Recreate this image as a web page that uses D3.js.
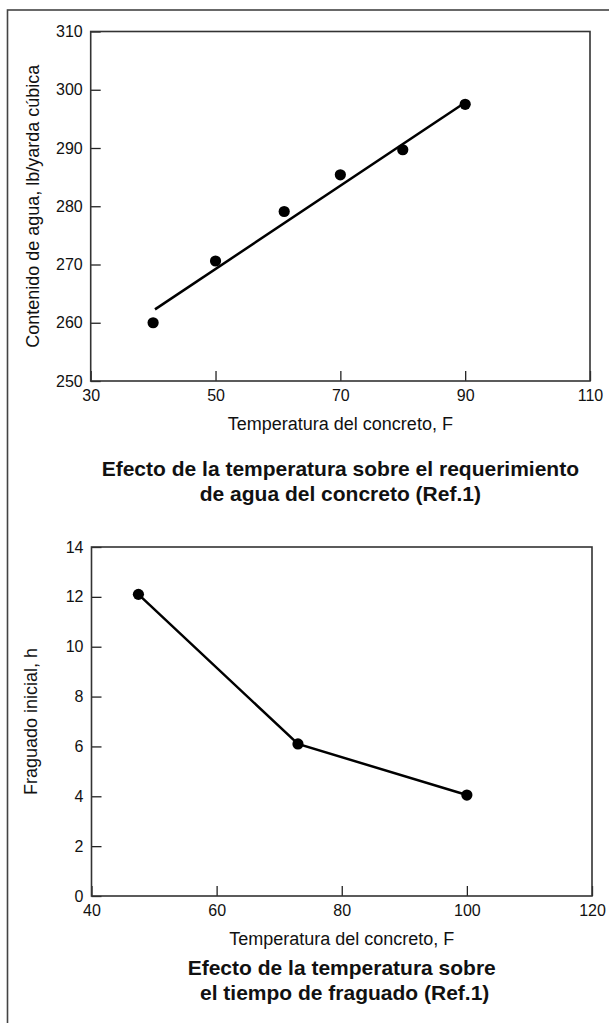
<!DOCTYPE html>
<html>
<head>
<meta charset="utf-8">
<script src="https://cdn.jsdelivr.net/npm/d3@7/dist/d3.min.js"></script>
<style>
  html, body { margin: 0; padding: 0; background: #fff; }
  svg { display: block; }
  text { font-family: "Liberation Sans", Arial, Helvetica, sans-serif; fill: #111; }
</style>
</head>
<body>
<svg id="chart" width="609" height="1023"></svg>
<script>
// ---- Chart 1 data: water requirement vs. concrete temperature ----
const tempWater = [40, 50, 61, 70, 80, 90];
const waterContent = [260, 270.6, 279.1, 285.4, 289.7, 297.5];
const fitTemp = [40.3, 90];
const fitWater = [262.3, 297.8];
const xTicks1 = [30, 50, 70, 90, 110];
const yTicks1 = [250, 260, 270, 280, 290, 300, 310];
const xLabel1 = "Temperatura del concreto, F";
const yLabel1 = "Contenido de agua, lb/yarda cúbica";
const title1 = ["Efecto de la temperatura sobre el requerimiento", "de agua del concreto (Ref.1)"];

// ---- Chart 2 data: setting time vs. concrete temperature ----
const tempSet = [47.5, 73, 100];
const setTime = [12.1, 6.1, 4.05];
const xTicks2 = [40, 60, 80, 100, 120];
const yTicks2 = [0, 2, 4, 6, 8, 10, 12, 14];
const xLabel2 = "Temperatura del concreto, F";
const yLabel2 = "Fraguado inicial, h";
const title2 = ["Efecto de la temperatura sobre", " el tiempo de fraguado (Ref.1)"];

const svg = d3.select("#chart");

// outer frame (extends beyond the window to the right and bottom)
svg.append("rect")
  .attr("x", 7.5).attr("y", 10).attr("width", 700).attr("height", 1100)
  .attr("fill", "none").attr("stroke", "#444").attr("stroke-width", 1.6);

function drawPanel(cfg) {
  const x = d3.scaleLinear().domain(cfg.xDomain).range([cfg.left, cfg.right]);
  const y = d3.scaleLinear().domain(cfg.yDomain).range([cfg.bottom, cfg.top]);
  const g = svg.append("g");

  // y axis (inward ticks)
  const yAxis = d3.axisLeft(y).tickValues(cfg.yTicks).tickSizeInner(-10).tickSizeOuter(0).tickPadding(8)
    .tickFormat(d3.format("d"));
  const gy = g.append("g").attr("transform", `translate(${cfg.left},0)`).call(yAxis);
  // x axis (inward ticks)
  const xAxis = d3.axisBottom(x).tickValues(cfg.xTicks).tickSizeInner(-10).tickSizeOuter(0).tickPadding(8.5)
    .tickFormat(d3.format("d"));
  const gx = g.append("g").attr("transform", `translate(0,${cfg.bottom})`).call(xAxis);

  [gx, gy].forEach(a => {
    a.select(".domain").remove();
    a.selectAll(".tick line").attr("stroke", "#222").attr("stroke-width", 1.3);
    a.selectAll(".tick text").attr("font-size", 16).attr("fill", "#111")
      .style("font-family", '"Liberation Sans", Arial, sans-serif');
  });

  // plot frame
  g.append("rect")
    .attr("x", cfg.left).attr("y", cfg.top)
    .attr("width", cfg.right - cfg.left).attr("height", cfg.bottom - cfg.top)
    .attr("fill", "none").attr("stroke", "#333").attr("stroke-width", 1.6);

  // line
  const line = d3.line().x(d => x(d[0])).y(d => y(d[1]));
  g.append("path").datum(d3.zip(cfg.lineX, cfg.lineY))
    .attr("d", line).attr("fill", "none").attr("stroke", "#000").attr("stroke-width", 2.5);

  // points
  g.selectAll("circle.pt").data(d3.zip(cfg.ptX, cfg.ptY)).join("circle")
    .attr("class", "pt")
    .attr("cx", d => x(d[0])).attr("cy", d => y(d[1])).attr("r", 5.6).attr("fill", "#000");

  // axis titles
  const cx = (cfg.left + cfg.right) / 2;
  g.append("text").attr("x", cx).attr("y", cfg.bottom + 49).attr("text-anchor", "middle")
    .attr("font-size", 18).text(cfg.xLabel);
  g.append("text")
    .attr("transform", `translate(${cfg.yLabelX},${(cfg.top + cfg.bottom) / 2}) rotate(-90)`)
    .attr("text-anchor", "middle").attr("font-size", 18).text(cfg.yLabel);

  // title
  cfg.title.forEach((t, i) => {
    g.append("text").attr("x", cx).attr("y", cfg.titleY + i * 25).attr("text-anchor", "middle")
      .attr("font-size", 21).attr("font-weight", "bold").attr("fill", "#000")
      .attr("xml:space", "preserve").style("white-space", "pre").text(t);
  });
}

drawPanel({
  xDomain: [30, 110], yDomain: [250, 310],
  left: 90.7, right: 590, top: 31.5, bottom: 381,
  xTicks: xTicks1, yTicks: yTicks1,
  ptX: tempWater, ptY: waterContent, lineX: fitTemp, lineY: fitWater,
  xLabel: xLabel1, yLabel: yLabel1, yLabelX: 38.5, title: title1, titleY: 476
});

drawPanel({
  xDomain: [40, 120], yDomain: [0, 14],
  left: 91.5, right: 592, top: 547, bottom: 896,
  xTicks: xTicks2, yTicks: yTicks2,
  ptX: tempSet, ptY: setTime, lineX: tempSet, lineY: setTime,
  xLabel: xLabel2, yLabel: yLabel2, yLabelX: 36.5, title: title2, titleY: 975
});
</script>
</body>
</html>
